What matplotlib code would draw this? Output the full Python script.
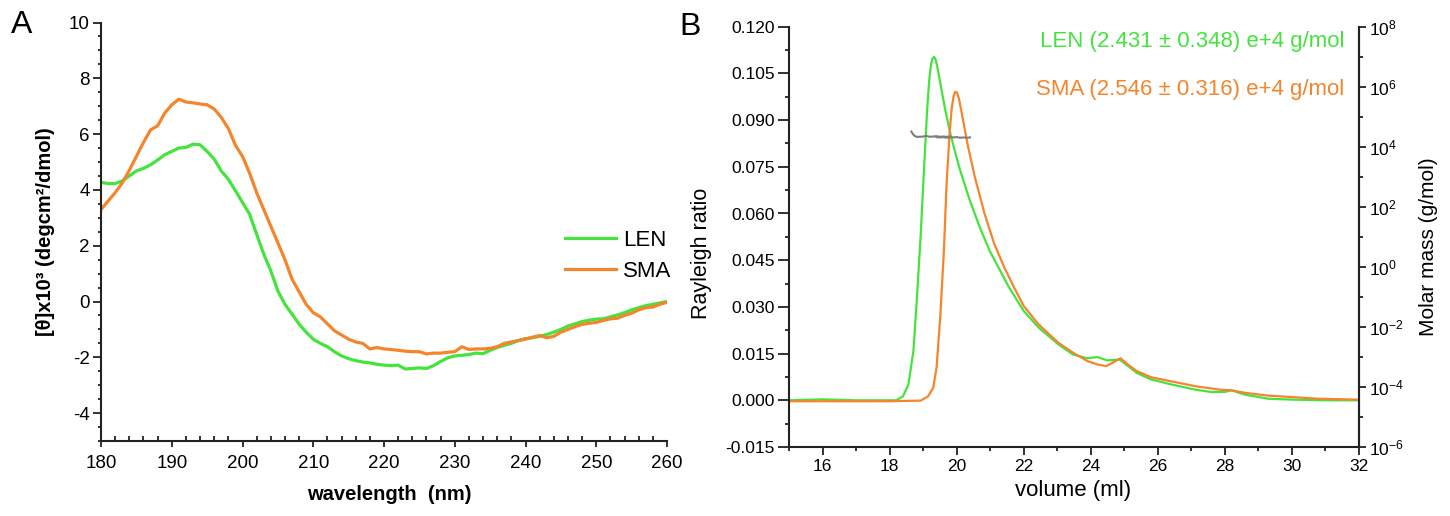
"""
Figura doble: espectro CD (A) y perfil SEC-MALS (B) para LEN y SMA.
Salida: out.png (1450x516 px)
"""

import math

import matplotlib
matplotlib.use("Agg")
import matplotlib.pyplot as plt
from matplotlib.ticker import MultipleLocator, FixedLocator, FuncFormatter, NullFormatter

plt.rcParams["font.family"] = ["Liberation Sans", "DejaVu Sans"]
plt.rcParams["mathtext.fontset"] = "custom"
plt.rcParams["mathtext.rm"] = "Liberation Sans"
plt.rcParams["mathtext.default"] = "regular"
plt.rcParams["axes.unicode_minus"] = False

#==============
# Datos panel A (CD)
#==============
wl_nm = list(range(180, 261))

cd_len = [4.27, 4.23, 4.23, 4.32, 4.50, 4.68, 4.77, 4.90, 5.07, 5.26,
          5.38, 5.50, 5.52, 5.64, 5.62, 5.38, 5.10, 4.68, 4.38, 3.97,
          3.55, 3.13, 2.41, 1.70, 1.10, 0.38, -0.10, -0.45, -0.81, -1.10,
          -1.35, -1.50, -1.62, -1.80, -1.95, -2.05, -2.12, -2.17, -2.20, -2.25,
          -2.28, -2.30, -2.28, -2.42, -2.40, -2.38, -2.40, -2.30, -2.15, -2.02,
          -1.95, -1.93, -1.90, -1.85, -1.87, -1.75, -1.65, -1.57, -1.50, -1.40,
          -1.33, -1.30, -1.25, -1.18, -1.10, -1.00, -0.88, -0.80, -0.72, -0.67,
          -0.63, -0.62, -0.55, -0.48, -0.40, -0.30, -0.22, -0.15, -0.10, -0.05,
          0.00]

cd_sma = [3.30, 3.60, 3.90, 4.25, 4.70, 5.20, 5.70, 6.15, 6.30, 6.75,
          7.05, 7.25, 7.15, 7.12, 7.08, 7.05, 6.90, 6.60, 6.20, 5.60,
          5.20, 4.60, 3.90, 3.30, 2.70, 2.10, 1.50, 0.80, 0.35, -0.10,
          -0.40, -0.55, -0.80, -1.05, -1.20, -1.35, -1.45, -1.50, -1.70, -1.65,
          -1.70, -1.72, -1.75, -1.78, -1.80, -1.80, -1.88, -1.85, -1.85, -1.82,
          -1.80, -1.62, -1.72, -1.70, -1.70, -1.68, -1.62, -1.50, -1.45, -1.40,
          -1.35, -1.28, -1.22, -1.30, -1.25, -1.10, -1.00, -0.90, -0.82, -0.78,
          -0.75, -0.68, -0.62, -0.60, -0.50, -0.42, -0.30, -0.22, -0.20, -0.10,
          -0.03]

#==============
# Datos panel B (SEC-MALS)
#==============
vol_len = [15.0, 16.0, 17.0, 18.0, 18.2, 18.4, 18.56, 18.71, 18.81, 18.93,
           19.03, 19.12, 19.18, 19.23, 19.28, 19.33, 19.38, 19.44, 19.51, 19.66,
           19.81, 19.95, 20.10, 20.39, 20.69, 20.98, 21.27, 21.56, 22.0, 22.44,
           23.03, 23.47, 23.90, 24.20, 24.49, 24.86, 25.08, 25.37, 25.80, 26.40,
           27.13, 27.57, 28.0, 28.20, 28.60, 29.30, 30.05, 31.0, 32.0]
rr_len = [0.0, 0.0003, 0.0, 0.0, 0.0, 0.0013, 0.005, 0.0158, 0.032, 0.0535,
          0.075, 0.0933, 0.1025, 0.1075, 0.1098, 0.1103, 0.1092, 0.1062, 0.102, 0.0933,
          0.0858, 0.0799, 0.074, 0.0643, 0.0556, 0.0481, 0.0422, 0.0363, 0.0287, 0.0234,
          0.018, 0.0147, 0.0135, 0.0139, 0.0128, 0.0131, 0.0113, 0.0088, 0.0067, 0.0051,
          0.0034, 0.0027, 0.0027, 0.0032, 0.0018, 0.0005, 0.0002, 0.0, 0.0]

vol_sma = [15.0, 16.0, 17.0, 18.0, 18.93, 19.15, 19.30, 19.40, 19.51, 19.62,
           19.70, 19.79, 19.85, 19.91, 19.96, 20.01, 20.07, 20.17, 20.32, 20.54,
           20.83, 21.12, 21.42, 21.71, 22.0, 22.44, 23.03, 23.47, 23.90, 24.20,
           24.46, 24.64, 24.89, 25.08, 25.37, 25.80, 26.40, 27.13, 27.86, 28.20,
           28.60, 29.30, 30.05, 30.80, 32.0]
rr_sma = [-0.0003, -0.0003, -0.0003, -0.0003, -0.0001, 0.0013, 0.004, 0.0104, 0.0266, 0.0481,
          0.0696, 0.0858, 0.0935, 0.0978, 0.0991, 0.0988, 0.0968, 0.0912, 0.0825, 0.0718,
          0.060, 0.0503, 0.0427, 0.0363, 0.0303, 0.0244, 0.0185, 0.0153, 0.0126, 0.0115,
          0.011, 0.012, 0.0135, 0.0117, 0.0094, 0.0074, 0.0061, 0.0045, 0.0034, 0.0032,
          0.0024, 0.0015, 0.001, 0.0005, 0.0002]

# masa molar (g/mol) a lo largo del pico
mm_vol_len = [18.65, 18.70, 18.75, 18.80, 18.90, 19.00, 19.10, 19.20, 19.30, 19.40,
              19.50, 19.60, 19.70, 19.80]
mm_len = [3.2e4, 2.6e4, 2.3e4, 2.15e4, 2.15e4, 2.2e4, 2.3e4, 2.15e4, 2.2e4, 2.25e4,
          2.15e4, 2.2e4, 2.15e4, 2.2e4]
mm_vol_sma = [19.40, 19.50, 19.60, 19.70, 19.80, 19.90, 20.00, 20.10, 20.20, 20.30, 20.40]
mm_sma = [2.1e4, 2.05e4, 2.1e4, 2.0e4, 2.1e4, 2.05e4, 2.1e4, 2.0e4, 2.05e4, 2.0e4, 2.05e4]

mass_len = "LEN (2.431 ± 0.348) e+4 g/mol"
mass_sma = "SMA (2.546 ± 0.316) e+4 g/mol"

GREEN = "#45e33d"
ORANGE = "#f5852c"
GRAY = "#7d7d7d"
AXC = "#222222"

fig = plt.figure(figsize=(14.5, 5.16), dpi=100)

#=============
# Panel A
#=============
axA = fig.add_axes([101 / 1450, 1 - 441 / 516, 566 / 1450, 418.5 / 516])
axA.plot(wl_nm, cd_len, color=GREEN, lw=2.3, label="LEN")
axA.plot(wl_nm, cd_sma, color=ORANGE, lw=2.3, label="SMA")
axA.set_xlim(180, 260)
axA.set_ylim(-5, 10)
for s in ("top", "right"):
    axA.spines[s].set_visible(False)
for s in ("left", "bottom"):
    axA.spines[s].set_linewidth(1.5)
    axA.spines[s].set_color(AXC)
axA.xaxis.set_major_locator(MultipleLocator(10))
axA.xaxis.set_minor_locator(MultipleLocator(2))
axA.yaxis.set_major_locator(FixedLocator(range(-4, 11, 2)))
axA.yaxis.set_minor_locator(MultipleLocator(0.5))
axA.tick_params(axis="x", which="major", direction="out", length=4, width=1.3,
                color=AXC, labelsize=13.5, pad=6)
axA.tick_params(axis="x", which="minor", direction="in", length=3.5, width=1.3, color=AXC)
axA.tick_params(axis="y", which="major", direction="out", length=6, width=1.3,
                color=AXC, labelsize=13.5, pad=2)
axA.tick_params(axis="y", which="minor", direction="out", length=2.5, width=1.3, color=AXC)
axA.set_xlabel("wavelength  (nm)", fontsize=14.5, fontweight="bold")
axA.xaxis.set_label_coords(0.51, -0.105)
axA.set_ylabel("[θ]x10³ (degcm²/dmol)", fontsize=14.5, fontweight="bold")
axA.yaxis.set_label_coords(-0.081, 0.5)
axA.legend(loc="upper left", bbox_to_anchor=(565 / 1450, 1 - 230 / 516),
           bbox_transform=fig.transFigure, frameon=False, fontsize=16,
           handlelength=2.3, handletextpad=0.3, labelspacing=0.45, borderpad=0,
           borderaxespad=0)
fig.text(22 / 1450, 1 - 25 / 516, "A", fontsize=23, ha="center", va="center")

#=============
# Panel B
#=============
axB = fig.add_axes([789 / 1450, 1 - 447 / 516, 570 / 1450, 420.3 / 516])
axB.plot(vol_len, rr_len, color=GREEN, lw=1.6)
axB.plot(vol_sma, rr_sma, color=ORANGE, lw=1.6)
axB.set_xlim(15, 32)
axB.set_ylim(-0.015, 0.120)
axB.spines["top"].set_visible(False)
for s in ("left", "bottom", "right"):
    axB.spines[s].set_linewidth(1.5)
    axB.spines[s].set_color(AXC)
axB.xaxis.set_major_locator(FixedLocator(range(16, 33, 2)))
axB.xaxis.set_minor_locator(MultipleLocator(1))
axB.yaxis.set_major_locator(MultipleLocator(0.015))
axB.yaxis.set_minor_locator(MultipleLocator(0.0075))
axB.yaxis.set_major_formatter(FuncFormatter(lambda v, p: f"{v:.3f}"))
axB.tick_params(axis="x", which="major", direction="out", length=5.5, width=1.3,
                color=AXC, labelsize=12.5, pad=3)
axB.tick_params(axis="x", which="minor", direction="out", length=3, width=1.3, color=AXC)
axB.tick_params(axis="y", which="major", direction="out", length=8, width=1.3,
                color=AXC, labelsize=12.5, pad=2)
axB.tick_params(axis="y", which="minor", direction="out", length=3, width=1.3, color=AXC)
axB.set_xlabel("volume (ml)", fontsize=16)
axB.xaxis.set_label_coords(0.498, -0.079)
axB.set_ylabel("Rayleigh ratio", fontsize=15.5)
axB.yaxis.set_label_coords(-0.135, 0.46)

axM = axB.twinx()
axM.plot(mm_vol_len, mm_len, color=GRAY, lw=1.5)
axM.plot(mm_vol_sma, mm_sma, color=GRAY, lw=1.5)
axM.set_yscale("log")
axM.set_ylim(1e-6, 1e8)
for s in ("top", "left", "bottom"):
    axM.spines[s].set_visible(False)
axM.spines["right"].set_linewidth(1.5)
axM.spines["right"].set_color(AXC)
axM.yaxis.set_major_locator(FixedLocator([10.0 ** k for k in range(-6, 9, 2)]))
axM.yaxis.set_minor_locator(FixedLocator([10.0 ** k for k in range(-5, 8, 2)]))
axM.yaxis.set_major_formatter(FuncFormatter(lambda v, p: f"$10^{{{round(math.log10(v))}}}$"))
axM.yaxis.set_minor_formatter(NullFormatter())
axM.tick_params(axis="y", which="major", direction="out", length=5, width=1.3,
                color=AXC, labelsize=12.5, pad=2)
axM.tick_params(axis="y", which="minor", direction="out", length=3, width=1.3, color=AXC)
axM.set_ylabel("Molar mass (g/mol)", fontsize=15)
axM.yaxis.set_label_coords(1.105, 0.476)

axB.text(1344 / 1450, 1 - 41 / 516, mass_len, transform=fig.transFigure,
         color=GREEN, fontsize=16, ha="right", va="center")
axB.text(1344 / 1450, 1 - 90 / 516, mass_sma, transform=fig.transFigure,
         color=ORANGE, fontsize=16, ha="right", va="center")
fig.text(690 / 1450, 1 - 27 / 516, "B", fontsize=23, ha="center", va="center")

fig.savefig("out.png", dpi=100)
